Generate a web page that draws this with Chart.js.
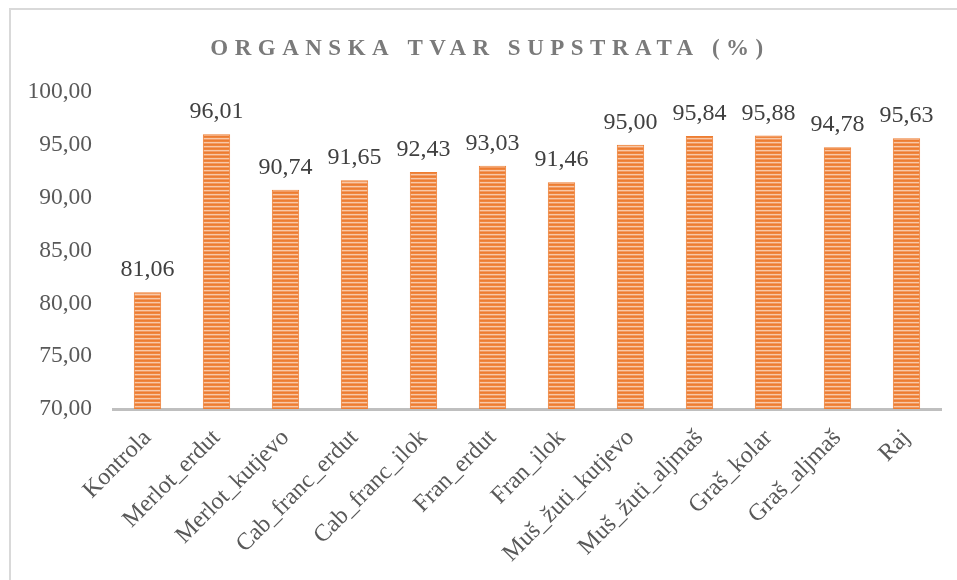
<!DOCTYPE html>
<html>
<head>
<meta charset="utf-8">
<script src="https://cdn.jsdelivr.net/npm/chart.js@4.4.1/dist/chart.umd.min.js"></script>
<style>
  body { margin: 0; background: #fff; }
  .wrap { position: relative; width: 957px; height: 580px; overflow: hidden; }
  .frame { position: absolute; left: 9px; top: 8px; width: 1100px; height: 1100px; border: 2px solid #d9d9d9; box-sizing: border-box; }
  canvas { position: absolute; left: 0; top: 0; }
</style>
</head>
<body>
<div class="wrap">
  <div class="frame"></div>
  <canvas id="chart" width="957" height="580"></canvas>
</div>
<script>
const categories = ['Kontrola', 'Merlot_erdut', 'Merlot_kutjevo', 'Cab_franc_erdut', 'Cab_franc_ilok',
  'Fran_erdut', 'Fran_ilok', 'Muš_žuti_kutjevo', 'Muš_žuti_aljmaš', 'Graš_kolar', 'Graš_aljmaš', 'Raj'];
const values = [81.06, 96.01, 90.74, 91.65, 92.43, 93.03, 91.46, 95.00, 95.84, 95.88, 94.78, 95.63];
const yMin = 70;
const yMax = 100;
const yStep = 5;
const titleText = 'ORGANSKA TVAR SUPSTRATA (%)';

const serif = '"Liberation Serif", "Times New Roman", serif';
const fmt = v => v.toFixed(2).replace('.', ',');

// striped fill like the Excel pattern
const makeStripes = () => {
    const c = document.createElement('canvas');
    c.width = 4;
    c.height = 4;
    const p = c.getContext('2d');
    const rows = ['#ed7d31', '#ef8640', '#f8c9a8', '#f29a62'];
    rows.forEach((col, i) => {
        p.fillStyle = col;
        p.fillRect(0, i, 4, 1);
    });
    return p.createPattern(c, 'repeat');
};

const titlePlugin = {
    id: 'spacedTitle',
    afterDraw(chart) {
        const ctx = chart.ctx;
        ctx.save();
        ctx.font = 'bold 23px ' + serif;
        ctx.fillStyle = '#7a7a7a';
        ctx.textAlign = 'center';
        ctx.textBaseline = 'alphabetic';
        ctx.letterSpacing = '6.5px';
        ctx.fillText(titleText, 490, 55);
        ctx.restore();
    },
};

const valueLabels = {
    id: 'valueLabels',
    afterDatasetsDraw(chart) {
        const ctx = chart.ctx;
        const meta = chart.getDatasetMeta(0);
        ctx.save();
        ctx.font = '24px ' + serif;
        ctx.fillStyle = '#404040';
        ctx.textAlign = 'center';
        ctx.textBaseline = 'alphabetic';
        meta.data.forEach((bar, i) => {
            ctx.fillText(fmt(values[i]), bar.x, bar.y - 16);
        });
        ctx.restore();
    },
};

const ctx = document.getElementById('chart');
new Chart(ctx, {
    type: 'bar',
    data: {
        labels: categories,
        datasets: [
            {
                data: values,
                backgroundColor: makeStripes(),
                borderColor: '#ed7d31',
                borderWidth: 1,
                barPercentage: 0.55,
                categoryPercentage: 0.72,
            },
        ],
    },
    options: {
        responsive: false,
        animation: false,
        layout: { padding: { left: 0, top: 92, right: 16, bottom: 0 } },
        plugins: {
            legend: { display: false },
            tooltip: { enabled: false },
        },
        scales: {
            x: {
                grid: { display: false, drawTicks: false },
                border: { color: '#bfbfbf', width: 3 },
                ticks: {
                    font: { family: serif, size: 24 },
                    color: '#595959',
                    minRotation: 45,
                    maxRotation: 45,
                    padding: 15,
                    autoSkip: false,
                },
                afterFit: scale => { scale.height = 171; },
            },
            y: {
                min: yMin,
                max: yMax,
                grid: { display: false, drawTicks: false },
                border: { display: false },
                ticks: {
                    stepSize: yStep,
                    font: { family: serif, size: 23.5 },
                    color: '#595959',
                    padding: 21,
                    callback: v => fmt(v),
                },
                afterFit: scale => { scale.width = 113; },
            },
        },
    },
    plugins: [titlePlugin, valueLabels],
});
</script>
</body>
</html>
